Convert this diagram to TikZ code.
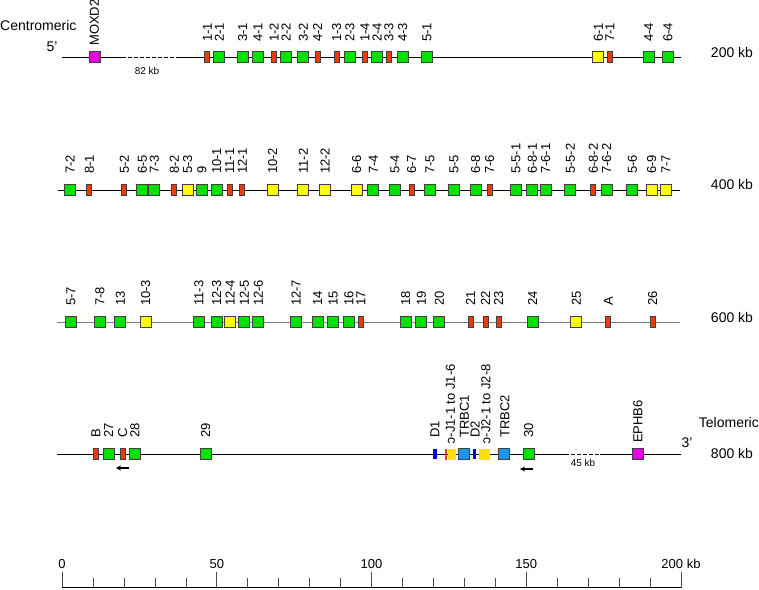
\documentclass[tikz,border=0pt]{standalone}
\usepackage{fontspec}
\setmainfont{Liberation Sans}
\usetikzlibrary{arrows.meta,calc}
\definecolor{vgreen}{RGB}{0,225,0}
\definecolor{vred}{RGB}{238,58,8}
\definecolor{vyellow}{RGB}{255,255,0}
\definecolor{vmagenta}{RGB}{228,0,228}
\definecolor{cblue}{RGB}{30,150,240}
\definecolor{dblue}{RGB}{0,0,225}
\definecolor{jyellow}{RGB}{255,222,0}
\tikzset{
  gbox/.style={shape=rectangle,draw=black!75,line width=0.8pt,minimum width=11pt,minimum height=11pt,inner sep=0pt},
  fgene/.style={gbox,fill=vgreen},
  orfgene/.style={gbox,fill=vyellow},
  psgene/.style={gbox,fill=vred,minimum width=5pt},
  flank/.style={gbox,fill=vmagenta},
  cgene/.style={gbox,fill=cblue},
  dgene/.style={shape=rectangle,fill=dblue,minimum width=3.5pt,minimum height=10pt,inner sep=0pt},
  jgene/.style={shape=rectangle,fill=jyellow,minimum height=11pt,inner sep=0pt},
  lbl/.style={rotate=90,anchor=west,inner sep=0pt,font=\fontsize{13}{13}\selectfont},
  big/.style={inner sep=0pt,font=\fontsize{14}{14}\selectfont},
  small/.style={inner sep=0pt,font=\fontsize{10}{10}\selectfont},
}
\begin{document}
\begin{tikzpicture}[x=1pt,y=-1pt]
\useasboundingbox (0,0) rectangle (759,589);
% chromosome lines
\coordinate (r1a) at (62,57); \coordinate (r1b) at (122,57); \coordinate (r1c) at (178,57); \coordinate (r1d) at (681,57);
\coordinate (r2a) at (58,190); \coordinate (r2b) at (680,190);
\coordinate (r3a) at (57,322); \coordinate (r3b) at (680,322);
\coordinate (r4a) at (57,454); \coordinate (r4b) at (565,454); \coordinate (r4c) at (600,454); \coordinate (r4d) at (681,454);
\draw[line width=0.8pt] (r1a) -- (r1b);
\draw[line width=0.8pt,dash pattern=on 4pt off 2pt] (r1b) -- (r1c);
\draw[line width=0.8pt] (r1c) -- (r1d);
\draw[line width=0.8pt] (r2a) -- (r2b);
\draw[line width=0.8pt,gray] (r3a) -- (r3b);
\draw[line width=0.8pt] (r4a) -- (r4b);
\draw[line width=0.8pt,dash pattern=on 4pt off 2pt] (r4b) -- (r4c);
\draw[line width=0.8pt] (r4c) -- (r4d);
% texts
\node[big,anchor=west] (cen) at (0,25) {Centromeric};
\node[big] (p5) at (52,47) {5'};
\node[small] (gap1) at (147,71) {82 kb};
\node[big] (kb200) at (732,52) {200 kb};
\node[big] (kb400) at (732,184) {400 kb};
\node[big] (kb600) at (732,317) {600 kb};
\node[big,anchor=east] (tel) at (759,422) {Telomeric};
\node[big] (p3) at (687,443) {3'};
\node[big] (kb800) at (732,453) {800 kb};
\node[small] (gap2) at (583,463) {45 kb};
% row 1
\node[flank] (moxd) at (94.5,57) {}; \node[lbl] (tmoxd) at (94.5,46) {MOXD2};
\node[psgene] (a11) at (207.3,57) {}; \node[lbl] (ta11) at (207.3,42) {1-1};
\node[fgene] (a21) at (219.3,57) {}; \node[lbl] (ta21) at (219.3,42) {2-1};
\node[fgene] (a31) at (242.7,57) {}; \node[lbl] (ta31) at (242.7,42) {3-1};
\node[fgene] (a41) at (258,57) {}; \node[lbl] (ta41) at (258,42) {4-1};
\node[psgene] (a12) at (274,57) {}; \node[lbl] (ta12) at (274,42) {1-2};
\node[fgene] (a22) at (286,57) {}; \node[lbl] (ta22) at (286,42) {2-2};
\node[fgene] (a32) at (303.3,57) {}; \node[lbl] (ta32) at (303.3,42) {3-2};
\node[psgene] (a42) at (317.7,57) {}; \node[lbl] (ta42) at (317.7,42) {4-2};
\node[psgene] (a13) at (336.7,57) {}; \node[lbl] (ta13) at (336.7,42) {1-3};
\node[fgene] (a23) at (350,57) {}; \node[lbl] (ta23) at (350,42) {2-3};
\node[psgene] (a14) at (365,57) {}; \node[lbl] (ta14) at (365,42) {1-4};
\node[fgene] (a24) at (377,57) {}; \node[lbl] (ta24) at (377,42) {2-4};
\node[psgene] (a33) at (389,57) {}; \node[lbl] (ta33) at (389,42) {3-3};
\node[fgene] (a43) at (402.7,57) {}; \node[lbl] (ta43) at (402.7,42) {4-3};
\node[fgene] (a51) at (427,57) {}; \node[lbl] (ta51) at (427,42) {5-1};
\node[orfgene] (a61) at (598.3,57) {}; \node[lbl] (ta61) at (598.3,42) {6-1};
\node[psgene] (a71) at (610,57) {}; \node[lbl] (ta71) at (610,42) {7-1};
\node[fgene] (a44) at (648.7,57) {}; \node[lbl] (ta44) at (648.7,42) {4-4};
\node[fgene] (a64) at (668,57) {}; \node[lbl] (ta64) at (668,42) {6-4};
% row 2
\node[fgene] (b72) at (70,190) {}; \node[lbl] (tb72) at (70,174) {7-2};
\node[psgene] (b81) at (89.3,190) {}; \node[lbl] (tb81) at (89.3,174) {8-1};
\node[psgene] (b52) at (124.3,190) {}; \node[lbl] (tb52) at (124.3,174) {5-2};
\node[fgene] (b65) at (142.3,190) {}; \node[lbl] (tb65) at (142.3,174) {6-5};
\node[fgene] (b73) at (154.3,190) {}; \node[lbl] (tb73) at (154.3,174) {7-3};
\node[psgene] (b82) at (174.3,190) {}; \node[lbl] (tb82) at (174.3,174) {8-2};
\node[orfgene] (b53) at (187.7,190) {}; \node[lbl] (tb53) at (187.7,174) {5-3};
\node[fgene] (b9) at (202,190) {}; \node[lbl] (tb9) at (202,174) {9};
\node[fgene] (b101) at (216.7,190) {}; \node[lbl] (tb101) at (216.7,174) {10-1};
\node[psgene] (b111) at (229.7,190) {}; \node[lbl] (tb111) at (229.7,174) {11-1};
\node[psgene] (b121) at (242.3,190) {}; \node[lbl] (tb121) at (242.3,174) {12-1};
\node[orfgene] (b102) at (272.7,190) {}; \node[lbl] (tb102) at (272.7,174) {10-2};
\node[orfgene] (b112) at (303.3,190) {}; \node[lbl] (tb112) at (303.3,174) {11-2};
\node[orfgene] (b122) at (325,190) {}; \node[lbl] (tb122) at (325,174) {12-2};
\node[orfgene] (b66) at (356.7,190) {}; \node[lbl] (tb66) at (356.7,174) {6-6};
\node[fgene] (b74) at (373.3,190) {}; \node[lbl] (tb74) at (373.3,174) {7-4};
\node[fgene] (b54) at (395,190) {}; \node[lbl] (tb54) at (395,174) {5-4};
\node[psgene] (b67) at (411.7,190) {}; \node[lbl] (tb67) at (411.7,174) {6-7};
\node[fgene] (b75) at (430,190) {}; \node[lbl] (tb75) at (430,174) {7-5};
\node[fgene] (b55) at (454,190) {}; \node[lbl] (tb55) at (454,174) {5-5};
\node[fgene] (b68) at (475.7,190) {}; \node[lbl] (tb68) at (475.7,174) {6-8};
\node[psgene] (b76) at (489.7,190) {}; \node[lbl] (tb76) at (489.7,174) {7-6};
\node[fgene] (b551) at (516,190) {}; \node[lbl] (tb551) at (516,174) {5-5-1};
\node[fgene] (b681) at (532.3,190) {}; \node[lbl] (tb681) at (532.3,174) {6-8-1};
\node[fgene] (b761) at (545.7,190) {}; \node[lbl] (tb761) at (545.7,174) {7-6-1};
\node[fgene] (b552) at (570.3,190) {}; \node[lbl] (tb552) at (570.3,174) {5-5-2};
\node[psgene] (b682) at (593.3,190) {}; \node[lbl] (tb682) at (593.3,174) {6-8-2};
\node[fgene] (b762) at (606.7,190) {}; \node[lbl] (tb762) at (606.7,174) {7-6-2};
\node[fgene] (b56) at (632.3,190) {}; \node[lbl] (tb56) at (632.3,174) {5-6};
\node[orfgene] (b69) at (651.7,190) {}; \node[lbl] (tb69) at (651.7,174) {6-9};
\node[orfgene] (b77) at (666,190) {}; \node[lbl] (tb77) at (666,174) {7-7};
% row 3
\node[fgene] (c57) at (71,322) {}; \node[lbl] (tc57) at (71,306) {5-7};
\node[fgene] (c78) at (100,322) {}; \node[lbl] (tc78) at (100,306) {7-8};
\node[fgene] (c13) at (120.3,322) {}; \node[lbl] (tc13) at (120.3,306) {13};
\node[orfgene] (c103) at (145.7,322) {}; \node[lbl] (tc103) at (145.7,306) {10-3};
\node[fgene] (c113) at (199,322) {}; \node[lbl] (tc113) at (199,306) {11-3};
\node[fgene] (c123) at (216.7,322) {}; \node[lbl] (tc123) at (216.7,306) {12-3};
\node[orfgene] (c124) at (230,322) {}; \node[lbl] (tc124) at (230,306) {12-4};
\node[fgene] (c125) at (244.3,322) {}; \node[lbl] (tc125) at (244.3,306) {12-5};
\node[fgene] (c126) at (258.3,322) {}; \node[lbl] (tc126) at (258.3,306) {12-6};
\node[fgene] (c127) at (296,322) {}; \node[lbl] (tc127) at (296,306) {12-7};
\node[fgene] (c14) at (317.7,322) {}; \node[lbl] (tc14) at (317.7,306) {14};
\node[fgene] (c15) at (333.3,322) {}; \node[lbl] (tc15) at (333.3,306) {15};
\node[fgene] (c16) at (349,322) {}; \node[lbl] (tc16) at (349,306) {16};
\node[psgene] (c17) at (361,322) {}; \node[lbl] (tc17) at (361,306) {17};
\node[fgene] (c18) at (405.7,322) {}; \node[lbl] (tc18) at (405.7,306) {18};
\node[fgene] (c19) at (421.3,322) {}; \node[lbl] (tc19) at (421.3,306) {19};
\node[fgene] (c20) at (439.3,322) {}; \node[lbl] (tc20) at (439.3,306) {20};
\node[psgene] (c21) at (470.7,322) {}; \node[lbl] (tc21) at (470.7,306) {21};
\node[psgene] (c22) at (485.7,322) {}; \node[lbl] (tc22) at (485.7,306) {22};
\node[psgene] (c23) at (498.7,322) {}; \node[lbl] (tc23) at (498.7,306) {23};
\node[fgene] (c24) at (532.7,322) {}; \node[lbl] (tc24) at (532.7,306) {24};
\node[orfgene] (c25) at (576.3,322) {}; \node[lbl] (tc25) at (576.3,306) {25};
\node[psgene] (cA) at (608.3,322) {}; \node[lbl] (tcA) at (608.3,306) {A};
\node[psgene] (c26) at (652.7,322) {}; \node[lbl] (tc26) at (652.7,306) {26};
% row 4
\node[psgene] (dB) at (96,454) {}; \node[lbl] (tdB) at (96,438) {B};
\node[fgene] (d27) at (108.7,454) {}; \node[lbl] (td27) at (108.7,438) {27};
\node[psgene] (dC) at (122.7,454) {}; \node[lbl] (tdC) at (122.7,438) {C};
\node[fgene] (d28) at (135,454) {}; \node[lbl] (td28) at (135,438) {28};
\node[fgene] (d29) at (205.7,454) {}; \node[lbl] (td29) at (205.7,438) {29};
\node[dgene] (dD1) at (435,454) {}; \node[lbl] (tdD1) at (435,438) {D1};
\node[shape=rectangle,fill=vred,minimum width=2.5pt,minimum height=11pt,inner sep=0pt] (dJ1r) at (446.2,454) {};
\node[jgene,minimum width=8pt] (dJ1) at (451.5,454) {}; \node[lbl] (tdJ1) at (450.5,444) {\reflectbox{c}-J1-1 to J1-6};
\node[cgene] (dC1) at (464,454) {}; \node[lbl] (tdC1) at (464.5,438) {TRBC1};
\node[dgene] (dD2) at (474.3,454) {}; \node[lbl] (tdD2) at (475,438) {D2};
\node[jgene,minimum width=10.5pt] (dJ2) at (484.7,454) {}; \node[lbl] (tdJ2) at (486,444) {\reflectbox{c}-J2-1 to J2-8};
\node[cgene] (dC2) at (504,454) {}; \node[lbl] (tdC2) at (505,438) {TRBC2};
\node[fgene] (d30) at (528.7,454) {}; \node[lbl] (td30) at (528.7,438) {30};
\node[flank] (ephb) at (638,454) {}; \node[lbl] (tephb) at (638,443) {EPHB6};
% inverted orientation
\coordinate (inv1s) at (129,468); \coordinate (inv1e) at (116,468);
\coordinate (inv2s) at (533,469); \coordinate (inv2e) at (520,469);
\draw[-{Stealth[length=5pt,width=5pt]},line width=1.1pt] (inv1s) -- (inv1e);
\draw[-{Stealth[length=5pt,width=5pt]},line width=1.1pt] (inv2s) -- (inv2e);
% scale
\coordinate (s0) at (62,587.5); \coordinate (s200) at (681,587.5);
\foreach \i in {0,...,20} {
  \draw[line width=0.6pt,black!70] ($(s0)!\i/20!(s200)$) -- ++(0,-10);
}
\foreach \i/\t in {0/0,5/50,10/100,15/150} {
  \draw[line width=0.6pt,black!70] ($(s0)!\i/20!(s200)$) -- ++(0,-16);
  \node[inner sep=0pt,font=\fontsize{13}{13}\selectfont] (sc\i) at ($(s0)!\i/20!(s200)+(0,-23.5)$) {\t};
}
\draw[line width=0.6pt,black!70] (s200) -- ++(0,-16);
\node[inner sep=0pt,font=\fontsize{13}{13}\selectfont] (sc20) at ($(s200)+(0,-23.5)$) {200 kb};
\draw[line width=0.8pt] (s0) -- (s200);
\end{tikzpicture}
\end{document}
